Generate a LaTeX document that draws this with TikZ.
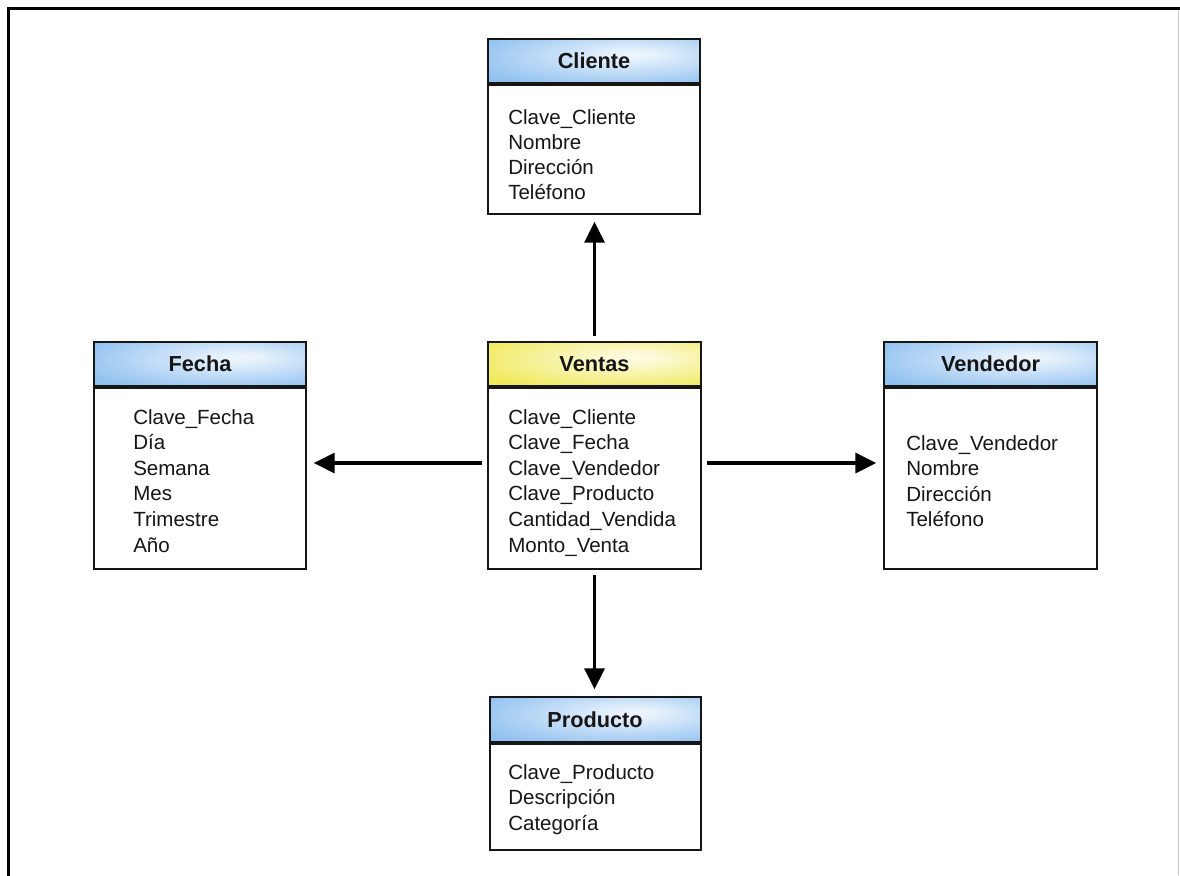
\documentclass[tikz,border=0pt]{standalone}
\usepackage{fontspec}
\setmainfont{Liberation Sans}
\usetikzlibrary{arrows.meta}

\definecolor{hblue}{RGB}{146,194,240}
\definecolor{hyellow}{RGB}{240,233,92}
\definecolor{ink}{RGB}{22,22,22}

% soft radial fills for the table headers
\pgfdeclareradialshading{headblue}{\pgfpoint{10bp}{8bp}}{color(0bp)=(white!85!hblue); color(6bp)=(white!75!hblue); color(36bp)=(hblue); color(80bp)=(hblue)}
\pgfdeclareradialshading{headyellow}{\pgfpoint{10bp}{8bp}}{color(0bp)=(white!85!hyellow); color(6bp)=(white!75!hyellow); color(36bp)=(hyellow); color(80bp)=(hyellow)}

\tikzset{
  head/.style={draw=ink, line width=1.5pt, minimum height=33pt, inner sep=0pt,
               font=\fontsize{16.3}{19}\selectfont\bfseries, text=ink},
  headb/.style={head, shading=headblue},
  heady/.style={head, shading=headyellow},
  body/.style={draw=ink, line width=1.5pt, fill=white, inner sep=0pt, anchor=north},
  field/.style={anchor=base west, inner sep=0pt, font=\fontsize{15.4}{18}\selectfont, text=ink},
  conn/.style={line width=2.5pt, draw=black, -{Triangle[length=15.75pt,width=15pt]},
               shorten <=3.75pt, shorten >=5pt}
}

\begin{document}
\begin{tikzpicture}[x=0.75pt,y=-0.75pt]
\useasboundingbox (0,0) rectangle (1180,875);
\fill[white] (0,0) rectangle (1180,875);

% frame
\draw[line width=2.4pt, line cap=rect] (8.5,875) -- (8.5,8.5) -- (1180,8.5);
\draw[gray!45, line width=0.75pt] (1178.5,10) -- (1178.5,875);

% Cliente
\node[headb, minimum width=159pt] (ch) at (594,61) {Cliente};
\node[body, minimum width=159pt, minimum height=96.75pt] (cb) at (ch.south) {};
\foreach \t [count=\i from 0] in {Clave\_Cliente, Nombre, Dirección, Teléfono}
  \node[field] (cf\i) at (508,{124+25.3*\i}) {\t};

% Fecha
\node[headb, minimum width=159pt] (fh) at (200,364) {Fecha};
\node[body, minimum width=159pt, minimum height=135.75pt] (fb) at (fh.south) {};
\foreach \t [count=\i from 0] in {Clave\_Fecha, Día, Semana, Mes, Trimestre, Año}
  \node[field] (ff\i) at (133,{424+25.6*\i}) {\t};

% Ventas
\node[heady, minimum width=159.75pt] (vh) at (594.5,364) {Ventas};
\node[body, minimum width=159.75pt, minimum height=135.75pt] (vb) at (vh.south) {};
\foreach \t [count=\i from 0] in {Clave\_Cliente, Clave\_Fecha, Clave\_Vendedor, Clave\_Producto, Cantidad\_Vendida, Monto\_Venta}
  \node[field] (vf\i) at (508,{424+25.6*\i}) {\t};

% Vendedor
\node[headb, minimum width=159.75pt] (dh) at (990.5,364) {Vendedor};
\node[body, minimum width=159.75pt, minimum height=135.75pt] (db) at (dh.south) {};
\foreach \t [count=\i from 0] in {Clave\_Vendedor, Nombre, Dirección, Teléfono}
  \node[field] (df\i) at (906,{450+25.6*\i}) {\t};

% Producto
\node[headb, minimum width=158.25pt, minimum height=33.75pt] (ph) at (595,719.5) {Producto};
\node[body, minimum width=158.25pt, minimum height=79.5pt] (pb) at (ph.south) {};
\foreach \t [count=\i from 0] in {Clave\_Producto, Descripción, Categoría}
  \node[field] (pf\i) at (508,{779+25.5*\i}) {\t};

% connectors from the fact table
\coordinate (row) at (0,463);
\draw[conn] (vh.north) -- (vh.north |- cb.south);
\draw[conn] (vb.south) -- (vb.south |- ph.north);
\draw[conn] (vb.west |- row) -- (fb.east |- row);
\draw[conn] (vb.east |- row) -- (db.west |- row);
\end{tikzpicture}
\end{document}
